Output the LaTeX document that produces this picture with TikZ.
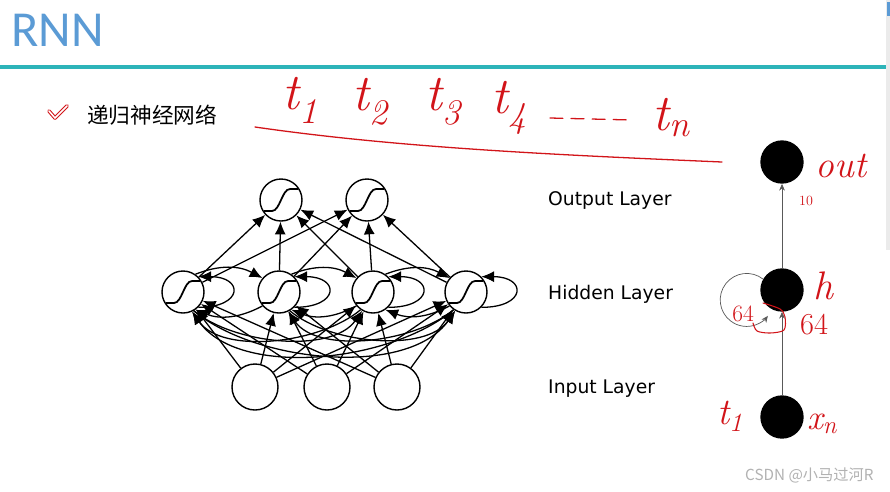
\documentclass[tikz,border=0pt]{standalone}
\usepackage{fontspec}
\newfontfamily\cjkfont{Noto Sans CJK SC}
\newfontfamily\titlefont{Carlito}
\newfontfamily\labelfont{DejaVu Sans}
\usetikzlibrary{arrows.meta}

\definecolor{titleblue}{RGB}{91,155,213}
\definecolor{rulecyan}{RGB}{45,180,185}
\definecolor{inkred}{RGB}{210,20,25}

\tikzset{
  neuron/.style={circle, draw, line width=1.2pt, minimum size=1.26cm, inner sep=0pt},
  inneuron/.style={neuron, minimum size=1.38cm},
  blob/.style={circle, fill=black, minimum size=1.3cm, inner sep=0pt},
  link/.style={-{Latex[length=3.8mm,width=3.3mm]}, line width=1.1pt},
  thinlink/.style={-{Stealth[length=2mm,width=1.7mm]}, line width=0.6pt, black!65},
  ink/.style={text=inkred, inner sep=0pt},
  inkline/.style={draw=inkred, line width=1.1pt, line cap=round, line join=round},
  layerlabel/.style={anchor=base west, inner sep=0pt, font=\labelfont\fontsize{16}{16}\selectfont}
}

% sigmoid glyph inside a neuron
\newcommand{\sigcurve}[1]{\draw[line width=1.5pt, shift={(#1)}] (-17,-11) -- (-9,-11) .. controls (-1,-11) and (1,11) .. (9,11) -- (17,11);}

\begin{document}
\begin{tikzpicture}[x=0.03cm, y=0.03cm]
\useasboundingbox (0,0) rectangle (890,-491);
\fill[white] (0,0) rectangle (890,-491);

% --- Header ---
\node[anchor=base west, inner sep=0pt, text=titleblue, font=\titlefont\fontsize{43}{43}\selectfont] (title) at (11,-46) {RNN};
\draw[rulecyan, line width=2.6pt] (0,-67) -- (886,-67);
\fill[black!8] (886,0) rectangle (890,-250);
\fill[titleblue] (887,-2) rectangle (890,-16);

\draw[draw=inkred, double=white, double distance=1.3pt, line width=0.9pt, line join=round, line cap=round] (49,-111) -- (55,-118) -- (67,-106);
\node[anchor=base west, inner sep=0pt, font=\cjkfont\fontsize{18.5}{18.5}\selectfont] (bullet) at (87,-123) {递归神经网络};

% --- Output layer ---
\node[neuron] (o1) at (281,-200) {};
\node[neuron] (o2) at (367,-200) {};

% --- Hidden layer ---
\foreach \n/\x in {1/183, 2/279, 3/373, 4/466}
  \node[neuron] (h\n) at (\x,-292) {};

% --- Input layer ---
\foreach \n/\x in {1/255, 2/327, 3/397}
  \node[inneuron] (i\n) at (\x,-387) {};

\foreach \s in {o1,o2,h1,h2,h3,h4} {\sigcurve{\s}}

% feed-forward links
\foreach \h in {1,...,4}
  \foreach \o in {1,2} \draw[link] (h\h) -- (o\o);
\foreach \k in {1,2,3}
  \foreach \h in {1,...,4} \draw[link] (i\k) -- (h\h);

% recurrent links
\foreach \h in {1,...,4}
  \draw[link] (h\h.-45) to[out=0, in=0, looseness=3.8] (h\h.45);
\foreach \a/\b in {1/2, 2/3, 3/4} {
  \draw[link] (h\a.55) to[bend left=25] (h\b.140);
  \draw[link] (h\b.-140) to[bend left=25] (h\a.-55);
}
\foreach \a/\b in {1/3, 1/4, 2/4} {
  \draw[link] (h\a.-60) to[out=-40, in=-125, looseness=0.8] (h\b.-120);
  \draw[link] (h\b.-125) to[out=-140, in=-55, looseness=0.8] (h\a.-65);
}

\node[layerlabel] (outlbl) at (548,-205) {Output Layer};
\node[layerlabel] (hidlbl) at (548,-299) {Hidden Layer};
\node[layerlabel] (inlbl) at (548,-393) {Input Layer};

% --- Folded view ---
\node[blob] (ro) at (782,-162) {};
\node[blob] (rh) at (782,-290) {};
\node[blob] (ri) at (782,-417) {};
\draw[thinlink] (ri) -- (rh);
\draw[thinlink] (rh) -- (ro);
\draw[thinlink] (rh.150) arc[start angle=52, end angle=323, radius=26.5];

% --- Red notes ---
\draw[inkline] (255,-127) .. controls (400,-148) and (560,-155) .. (722,-162);
\node[ink, font=\itshape\fontsize{44}{44}\selectfont] (t1) at (300,-100) {t\textsubscript{1}};
\node[ink, font=\itshape\fontsize{44}{44}\selectfont] (t2) at (370,-102) {t\textsubscript{2}};
\node[ink, font=\itshape\fontsize{44}{44}\selectfont] (t3) at (443,-102) {t\textsubscript{3}};
\node[ink, font=\itshape\fontsize{44}{44}\selectfont] (t4) at (509,-108) {t\textsubscript{4}};
\draw[inkline, dash pattern=on 11pt off 7pt] (550,-118) -- (632,-120);
\node[ink, font=\itshape\fontsize{44}{44}\selectfont] (tn) at (671,-118) {t\textsubscript{n}};

\node[ink, font=\itshape\fontsize{32}{32}\selectfont] (outnote) at (841,-166) {out};
\node[ink, font=\fontsize{12}{12}\selectfont] (tennote) at (806,-201) {10};
\node[ink, font=\itshape\fontsize{34}{34}\selectfont] (hnote) at (823,-286) {h};
\node[ink, font=\fontsize{26}{26}\selectfont] (sixfour) at (814,-325) {64};
\node[ink, font=\fontsize{20}{20}\selectfont] (loopnote) at (743,-314) {64};
\draw[inkline, line width=0.9pt] plot[smooth] coordinates {(763,-303) (780,-309) (785,-317) (784,-330) (770,-333) (757,-331) (753,-323)};
\node[ink, font=\itshape\fontsize{32}{32}\selectfont] (tone) at (730,-416) {t\textsubscript{1}};
\node[ink, font=\itshape\fontsize{30}{30}\selectfont] (xn) at (822,-424) {x\textsubscript{n}};

% watermark
\node[anchor=base west, inner sep=0pt, text=black!30, font=\cjkfont\fontsize{13}{13}\selectfont] (mark) at (745,-480) {CSDN @小马过河R};
\end{tikzpicture}
\end{document}
